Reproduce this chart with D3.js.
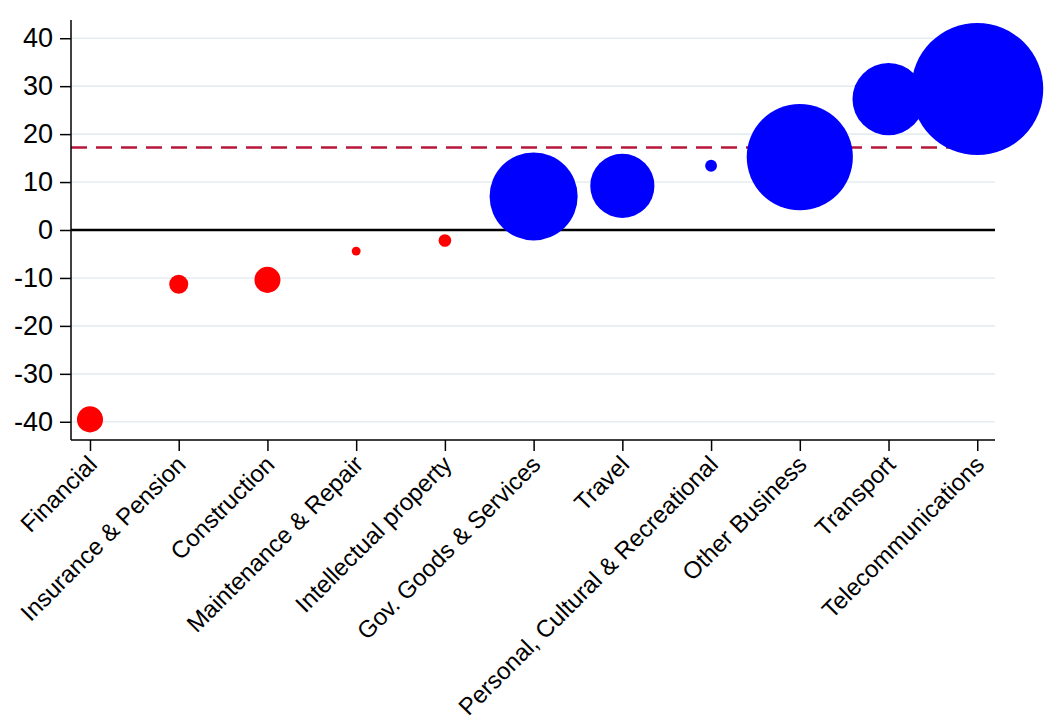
<!doctype html>
<html>
<head>
<meta charset="utf-8">
<style>
  body { margin: 0; background: #fff; }
  svg text { font-family: "Liberation Sans", Arial, sans-serif; fill: #000; }
</style>
</head>
<body>
<div id="vis"></div>
<script src="https://d3js.org/d3.v7.min.js"></script>
<script>
var categories = ['Financial', 'Insurance & Pension', 'Construction', 'Maintenance & Repair',
  'Intellectual property', 'Gov. Goods & Services', 'Travel', 'Personal, Cultural & Recreational',
  'Other Business', 'Transport', 'Telecommunications'];
var growth = [-39.5, -11.3, -10.4, -4.4, -2.2, 7.0, 9.2, 13.4, 15.2, 27.3, 29.4];
var weight = [1.7, 0.9, 1.7, 0.2, 0.4, 19.4, 10.3, 0.35, 28.2, 13.0, 43.6];
var average = 17.2;
var yTicks = [-40, -30, -20, -10, 0, 10, 20, 30, 40];

var W = 1053, H = 725,
    mLeft = 71, mRight = 995, mTop = 20, mBottom = 440;

var svg = d3.select('#vis').append('svg').attr('width', W).attr('height', H);

var x = d3.scaleLinear().domain([-0.214, 10.2]).range([mLeft, mRight]),
    y = d3.scaleLinear().domain([-43.8, 43.8]).range([mBottom, mTop]),
    r = d3.scaleSqrt().domain([0, d3.max(weight)]).range([0, 66]);

// grid
svg.append('g').selectAll('line').data(yTicks.filter(function(d){ return d !== 0; })).enter().append('line')
  .attr('x1', mLeft).attr('x2', mRight)
  .attr('y1', function(d){ return y(d); }).attr('y2', function(d){ return y(d); })
  .style('stroke', '#e4edf0').style('stroke-width', 1.6);

// average line
svg.append('line')
  .attr('x1', mLeft).attr('x2', mRight).attr('y1', y(average)).attr('y2', y(average))
  .style('stroke', '#b8173b').style('stroke-width', 2.4).style('stroke-dasharray', '16,9');

// zero line
svg.append('line')
  .attr('x1', mLeft).attr('x2', mRight).attr('y1', y(0)).attr('y2', y(0))
  .style('stroke', '#000').style('stroke-width', 2.4);

// bubbles
svg.append('g').selectAll('circle').data(growth).enter().append('circle')
  .attr('cx', function(d, i){ return x(i); })
  .attr('cy', function(d){ return y(d); })
  .attr('r', function(d, i){ return r(weight[i]); })
  .style('fill', function(d){ return d < 0 ? '#ff0000' : '#0000ff'; });

// y axis
var yAxis = d3.axisLeft(y).tickValues(yTicks).tickSize(11).tickFormat(function(d){ return String(d); });
var gy = svg.append('g').attr('transform', 'translate(' + mLeft + ',0)').call(yAxis);
gy.select('.domain').attr('d', 'M0,' + mTop + 'V' + mBottom).style('stroke', '#000').style('stroke-width', 1.5);
gy.selectAll('.tick line').style('stroke', '#000').style('stroke-width', 1.5);
gy.selectAll('.tick text').style('font-size', '27px').attr('font-family', null).attr('x', -18);

// x axis
var xAxis = d3.axisBottom(x).tickValues(d3.range(categories.length)).tickSize(11)
  .tickFormat(function(i){ return categories[i]; });
var gx = svg.append('g').attr('transform', 'translate(0,' + mBottom + ')').call(xAxis);
gx.select('.domain').attr('d', 'M' + mLeft + ',0H' + mRight).style('stroke', '#000').style('stroke-width', 1.5);
gx.selectAll('.tick line').style('stroke', '#000').style('stroke-width', 1.5);
gx.selectAll('.tick text')
  .attr('font-family', null)
  .style('font-size', '24px')
  .style('text-anchor', 'end')
  .attr('x', 0).attr('y', 0).attr('dy', '0.35em')
  .attr('transform', 'translate(2,20) rotate(-45)');
</script>
</body>
</html>
